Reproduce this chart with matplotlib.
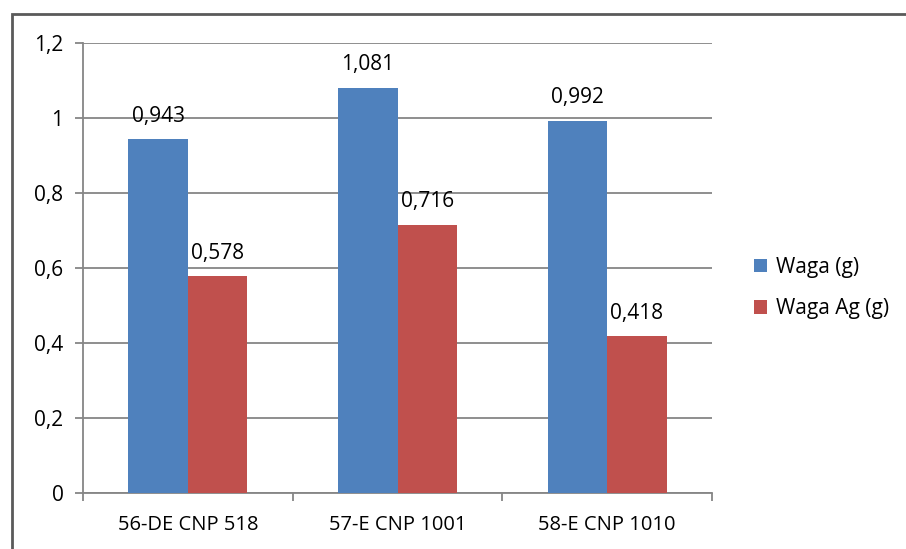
import matplotlib
matplotlib.use("Agg")
import matplotlib.pyplot as plt
from matplotlib.patches import Rectangle
from matplotlib.ticker import FixedLocator, FixedFormatter

categories = ["56-DE CNP 518", "57-E CNP 1001", "58-E CNP 1010"]
waga = [0.943, 1.081, 0.992]
waga_ag = [0.578, 0.716, 0.418]
series_names = ["Waga (g)", "Waga Ag (g)"]
yticks = [0, 0.2, 0.4, 0.6, 0.8, 1.0, 1.2]
ytick_labels = ["0", "0,2", "0,4", "0,6", "0,8", "1", "1,2"]

plt.rcParams['font.family'] = ['Open Sans', 'DejaVu Sans']

W, H = 906, 549
fig = plt.figure(figsize=(W/100, H/100), dpi=100)
ax = fig.add_axes([83/W, 1-493/H, (712-83)/W, (493-43)/H])

# outer frame
fig.patches.append(Rectangle((12/W, -0.1), 1.2, (549-14)/H + 0.1, transform=fig.transFigure,
                             fill=False, edgecolor="#5a5a5a", linewidth=2.0, zorder=0))

gray = "#868686"
bw = 0.283
x = list(range(len(categories)))
b1 = ax.bar([i - bw/2 for i in x], waga, width=bw, color="#4F81BD", label=series_names[0], zorder=3)
b2 = ax.bar([i + bw/2 for i in x], waga_ag, width=bw, color="#C0504D", label=series_names[1], zorder=3)

for bars, vals in ((b1, waga), (b2, waga_ag)):
    for r, v in zip(bars, vals):
        ax.annotate(f"{v:.3f}".replace(".", ","), (r.get_x() + r.get_width()/2, v),
                    xytext=(0, 9), textcoords="offset points", ha="center", va="bottom",
                    fontsize=15, color="black")

ax.set_xlim(-0.5, 2.5)
ax.set_ylim(0, 1.2)
ax.set_yticks(yticks)
ax.set_yticklabels(ytick_labels)
ax.yaxis.grid(True, color=gray, linewidth=1.3, zorder=0)
ax.set_axisbelow(True)

ax.xaxis.set_major_locator(FixedLocator([-0.5, 0.5, 1.5, 2.5]))
ax.xaxis.set_major_formatter(FixedFormatter(["", "", "", ""]))
ax.xaxis.set_minor_locator(FixedLocator(x))
ax.xaxis.set_minor_formatter(FixedFormatter(categories))
ax.tick_params(axis="x", which="minor", length=0, labelsize=14.5, pad=16)
ax.tick_params(axis="x", which="major", length=6, width=1.3, color=gray, direction="out")
ax.tick_params(axis="y", length=6, width=1.3, color=gray, labelsize=15, pad=8)

for s in ("top", "right"):
    ax.spines[s].set_visible(False)
for s in ("left", "bottom"):
    ax.spines[s].set_color(gray)
    ax.spines[s].set_linewidth(1.3)

leg = fig.legend(handles=[b1, b2], labels=series_names, loc="center left",
                 bbox_to_anchor=(735/W, 1-288/H), frameon=False, fontsize=15,
                 handlelength=0.62, handleheight=0.62, handletextpad=0.45, labelspacing=1.0)

fig.savefig("out.png", dpi=100)
